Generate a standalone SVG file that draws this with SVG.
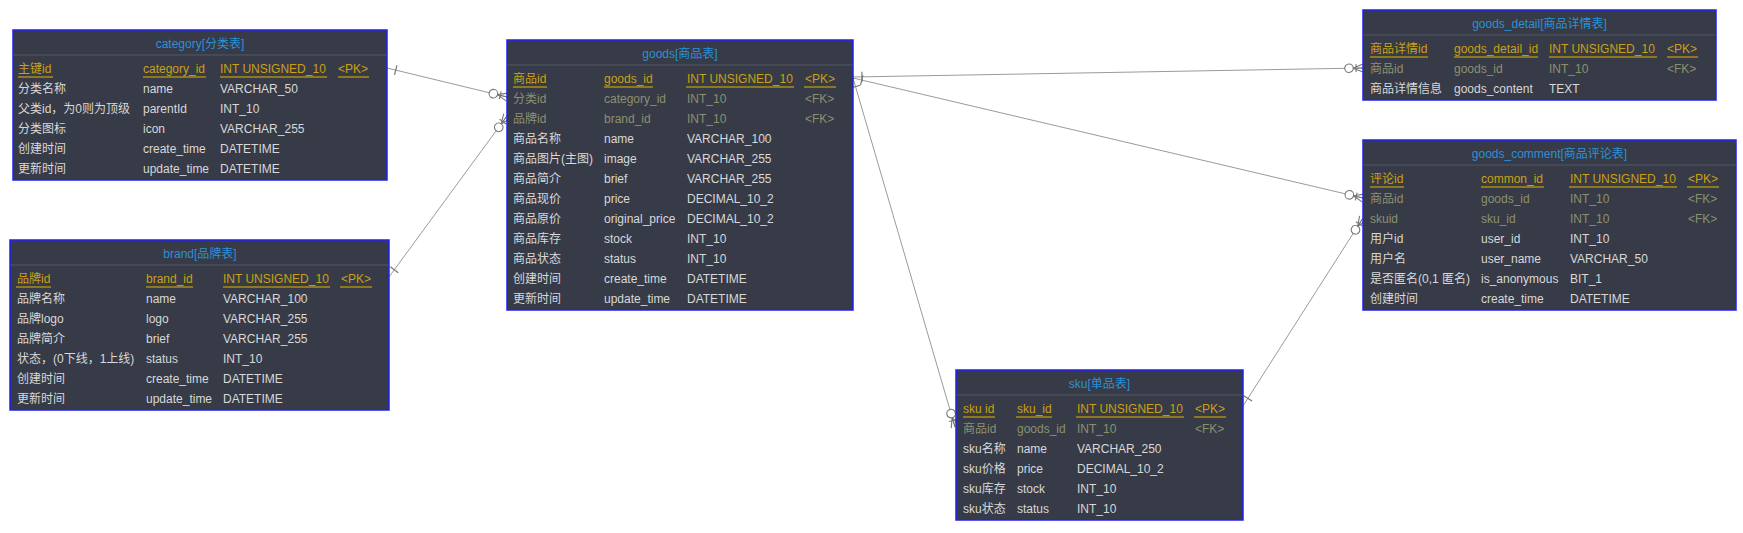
<svg xmlns="http://www.w3.org/2000/svg" width="1743" height="533" viewBox="0 0 1743 533">
<style>
text{font-family:"Liberation Sans","Noto Sans CJK SC",sans-serif;font-size:12px}
.tbl{fill:#363b47;stroke:#2020f0;stroke-width:1.5}
.hdr{stroke:#535865;stroke-width:1}
.title{fill:#2b90d9;text-anchor:middle}
.pk{fill:#c9a116}
.fk{fill:#8c9071}
.tx{fill:#d8d8d8}
.ul{fill:#8d7820}
.conn{stroke:#9a9a9a;stroke-width:1;fill:none}
</style>
<defs>
<marker id="one" markerUnits="userSpaceOnUse" viewBox="-20 -10 24 20" refX="0" refY="0" markerWidth="24" markerHeight="20" orient="auto-start-reverse" overflow="visible">
<path d="M-9,-5 L-9,5" stroke="#777" stroke-width="1.2" fill="none"/>
</marker>
<marker id="many" markerUnits="userSpaceOnUse" viewBox="-20 -10 24 20" refX="0" refY="0" markerWidth="24" markerHeight="20" orient="auto-start-reverse" overflow="visible">
<circle cx="-14" cy="0" r="4.3" fill="#fff" stroke="#777" stroke-width="1.1"/>
<path d="M-10,0 L0,-4 M-10,0 L0,0 M-10,0 L0,4 M-7,-4 L-7,4" stroke="#777" stroke-width="1.1" fill="none"/>
</marker>
</defs>
<rect width="1743" height="533" fill="#fff"/>

<g id="connectors">
<path class="conn" d="M387,68 L507,97" marker-start="url(#one)" marker-end="url(#many)"/>
<path class="conn" d="M389,277 L507,116" marker-start="url(#one)" marker-end="url(#many)"/>
<path class="conn" d="M853,77 L1363,68" marker-start="url(#one)" marker-end="url(#many)"/>
<path class="conn" d="M853,78 L1363,198" marker-start="url(#one)" marker-end="url(#many)"/>
<path class="conn" d="M853,78 L955,427" marker-start="url(#one)" marker-end="url(#many)"/>
<path class="conn" d="M1243,406 L1363,218" marker-start="url(#one)" marker-end="url(#many)"/>
</g>

<g id="category">
<rect class="tbl" x="13" y="30" width="374" height="150"/>
<line class="hdr" x1="13.5" y1="55" x2="386.5" y2="55"/>
<text class="title" x="200" y="48">category[分类表]</text>
<rect class="ul" x="18" y="76" width="35" height="2"/><rect class="ul" x="143" y="76" width="63" height="2"/><rect class="ul" x="220" y="76" width="107" height="2"/><rect class="ul" x="338" y="76" width="31" height="2"/>
<text class="pk" x="18" y="73">主键id</text><text class="pk" x="143" y="73">category_id</text><text class="pk" x="220" y="73">INT UNSIGNED_10</text><text class="pk" x="338" y="73">&lt;PK&gt;</text>
<text class="tx" x="18" y="93">分类名称</text><text class="tx" x="143" y="93">name</text><text class="tx" x="220" y="93">VARCHAR_50</text>
<text class="tx" x="18" y="113">父类id，为0则为顶级</text><text class="tx" x="143" y="113">parentId</text><text class="tx" x="220" y="113">INT_10</text>
<text class="tx" x="18" y="133">分类图标</text><text class="tx" x="143" y="133">icon</text><text class="tx" x="220" y="133">VARCHAR_255</text>
<text class="tx" x="18" y="153">创建时间</text><text class="tx" x="143" y="153">create_time</text><text class="tx" x="220" y="153">DATETIME</text>
<text class="tx" x="18" y="173">更新时间</text><text class="tx" x="143" y="173">update_time</text><text class="tx" x="220" y="173">DATETIME</text>
</g>

<g id="brand">
<rect class="tbl" x="10" y="240" width="379" height="170"/>
<line class="hdr" x1="10.5" y1="265" x2="388.5" y2="265"/>
<text class="title" x="200" y="258">brand[品牌表]</text>
<rect class="ul" x="16" y="286" width="35" height="2"/><rect class="ul" x="146" y="286" width="47" height="2"/><rect class="ul" x="223" y="286" width="107" height="2"/><rect class="ul" x="340" y="286" width="32" height="2"/>
<text class="pk" x="17" y="283">品牌id</text><text class="pk" x="146" y="283">brand_id</text><text class="pk" x="223" y="283">INT UNSIGNED_10</text><text class="pk" x="341" y="283">&lt;PK&gt;</text>
<text class="tx" x="17" y="303">品牌名称</text><text class="tx" x="146" y="303">name</text><text class="tx" x="223" y="303">VARCHAR_100</text>
<text class="tx" x="17" y="323">品牌logo</text><text class="tx" x="146" y="323">logo</text><text class="tx" x="223" y="323">VARCHAR_255</text>
<text class="tx" x="17" y="343">品牌简介</text><text class="tx" x="146" y="343">brief</text><text class="tx" x="223" y="343">VARCHAR_255</text>
<text class="tx" x="17" y="363">状态，(0下线，1上线)</text><text class="tx" x="146" y="363">status</text><text class="tx" x="223" y="363">INT_10</text>
<text class="tx" x="17" y="383">创建时间</text><text class="tx" x="146" y="383">create_time</text><text class="tx" x="223" y="383">DATETIME</text>
<text class="tx" x="17" y="403">更新时间</text><text class="tx" x="146" y="403">update_time</text><text class="tx" x="223" y="403">DATETIME</text>
</g>

<g id="goods">
<rect class="tbl" x="507" y="40" width="346" height="270"/>
<line class="hdr" x1="507.5" y1="65" x2="852.5" y2="65"/>
<text class="title" x="680" y="58">goods[商品表]</text>
<rect class="ul" x="513" y="86" width="34" height="2"/><rect class="ul" x="604" y="86" width="49" height="2"/><rect class="ul" x="686" y="86" width="108" height="2"/><rect class="ul" x="804" y="86" width="32" height="2"/>
<text class="pk" x="513" y="83">商品id</text><text class="pk" x="604" y="83">goods_id</text><text class="pk" x="687" y="83">INT UNSIGNED_10</text><text class="pk" x="805" y="83">&lt;PK&gt;</text>
<text class="fk" x="513" y="103">分类id</text><text class="fk" x="604" y="103">category_id</text><text class="fk" x="687" y="103">INT_10</text><text class="fk" x="805" y="103">&lt;FK&gt;</text>
<text class="fk" x="513" y="123">品牌id</text><text class="fk" x="604" y="123">brand_id</text><text class="fk" x="687" y="123">INT_10</text><text class="fk" x="805" y="123">&lt;FK&gt;</text>
<text class="tx" x="513" y="143">商品名称</text><text class="tx" x="604" y="143">name</text><text class="tx" x="687" y="143">VARCHAR_100</text>
<text class="tx" x="513" y="163">商品图片(主图)</text><text class="tx" x="604" y="163">image</text><text class="tx" x="687" y="163">VARCHAR_255</text>
<text class="tx" x="513" y="183">商品简介</text><text class="tx" x="604" y="183">brief</text><text class="tx" x="687" y="183">VARCHAR_255</text>
<text class="tx" x="513" y="203">商品现价</text><text class="tx" x="604" y="203">price</text><text class="tx" x="687" y="203">DECIMAL_10_2</text>
<text class="tx" x="513" y="223">商品原价</text><text class="tx" x="604" y="223">original_price</text><text class="tx" x="687" y="223">DECIMAL_10_2</text>
<text class="tx" x="513" y="243">商品库存</text><text class="tx" x="604" y="243">stock</text><text class="tx" x="687" y="243">INT_10</text>
<text class="tx" x="513" y="263">商品状态</text><text class="tx" x="604" y="263">status</text><text class="tx" x="687" y="263">INT_10</text>
<text class="tx" x="513" y="283">创建时间</text><text class="tx" x="604" y="283">create_time</text><text class="tx" x="687" y="283">DATETIME</text>
<text class="tx" x="513" y="303">更新时间</text><text class="tx" x="604" y="303">update_time</text><text class="tx" x="687" y="303">DATETIME</text>
</g>

<g id="goods_detail">
<rect class="tbl" x="1363" y="10" width="353" height="90"/>
<line class="hdr" x1="1363.5" y1="35" x2="1715.5" y2="35"/>
<text class="title" x="1539.5" y="28">goods_detail[商品详情表]</text>
<rect class="ul" x="1370" y="56" width="58" height="2"/><rect class="ul" x="1454" y="56" width="84" height="2"/><rect class="ul" x="1549" y="56" width="108" height="2"/><rect class="ul" x="1667" y="56" width="31" height="2"/>
<text class="pk" x="1370" y="53">商品详情id</text><text class="pk" x="1454" y="53">goods_detail_id</text><text class="pk" x="1549" y="53">INT UNSIGNED_10</text><text class="pk" x="1667" y="53">&lt;PK&gt;</text>
<text class="fk" x="1370" y="73">商品id</text><text class="fk" x="1454" y="73">goods_id</text><text class="fk" x="1549" y="73">INT_10</text><text class="fk" x="1667" y="73">&lt;FK&gt;</text>
<text class="tx" x="1370" y="93">商品详情信息</text><text class="tx" x="1454" y="93">goods_content</text><text class="tx" x="1549" y="93">TEXT</text>
</g>

<g id="goods_comment">
<rect class="tbl" x="1363" y="140" width="373" height="170"/>
<line class="hdr" x1="1363.5" y1="165" x2="1735.5" y2="165"/>
<text class="title" x="1549.5" y="158">goods_comment[商品评论表]</text>
<rect class="ul" x="1370" y="186" width="34" height="2"/><rect class="ul" x="1481" y="186" width="63" height="2"/><rect class="ul" x="1569" y="186" width="108" height="2"/><rect class="ul" x="1687" y="186" width="32" height="2"/>
<text class="pk" x="1370" y="183">评论id</text><text class="pk" x="1481" y="183">common_id</text><text class="pk" x="1570" y="183">INT UNSIGNED_10</text><text class="pk" x="1688" y="183">&lt;PK&gt;</text>
<text class="fk" x="1370" y="203">商品id</text><text class="fk" x="1481" y="203">goods_id</text><text class="fk" x="1570" y="203">INT_10</text><text class="fk" x="1688" y="203">&lt;FK&gt;</text>
<text class="fk" x="1370" y="223">skuid</text><text class="fk" x="1481" y="223">sku_id</text><text class="fk" x="1570" y="223">INT_10</text><text class="fk" x="1688" y="223">&lt;FK&gt;</text>
<text class="tx" x="1370" y="243">用户id</text><text class="tx" x="1481" y="243">user_id</text><text class="tx" x="1570" y="243">INT_10</text>
<text class="tx" x="1370" y="263">用户名</text><text class="tx" x="1481" y="263">user_name</text><text class="tx" x="1570" y="263">VARCHAR_50</text>
<text class="tx" x="1370" y="283">是否匿名(0,1 匿名)</text><text class="tx" x="1481" y="283">is_anonymous</text><text class="tx" x="1570" y="283">BIT_1</text>
<text class="tx" x="1370" y="303">创建时间</text><text class="tx" x="1481" y="303">create_time</text><text class="tx" x="1570" y="303">DATETIME</text>
</g>

<g id="sku">
<rect class="tbl" x="956" y="370" width="287" height="150"/>
<line class="hdr" x1="956.5" y1="395" x2="1242.5" y2="395"/>
<text class="title" x="1099.5" y="388">sku[单品表]</text>
<rect class="ul" x="963" y="416" width="32" height="2"/><rect class="ul" x="1016" y="416" width="36" height="2"/><rect class="ul" x="1076" y="416" width="108" height="2"/><rect class="ul" x="1194" y="416" width="32" height="2"/>
<text class="pk" x="963" y="413">sku id</text><text class="pk" x="1017" y="413">sku_id</text><text class="pk" x="1077" y="413">INT UNSIGNED_10</text><text class="pk" x="1195" y="413">&lt;PK&gt;</text>
<text class="fk" x="963" y="433">商品id</text><text class="fk" x="1017" y="433">goods_id</text><text class="fk" x="1077" y="433">INT_10</text><text class="fk" x="1195" y="433">&lt;FK&gt;</text>
<text class="tx" x="963" y="453">sku名称</text><text class="tx" x="1017" y="453">name</text><text class="tx" x="1077" y="453">VARCHAR_250</text>
<text class="tx" x="963" y="473">sku价格</text><text class="tx" x="1017" y="473">price</text><text class="tx" x="1077" y="473">DECIMAL_10_2</text>
<text class="tx" x="963" y="493">sku库存</text><text class="tx" x="1017" y="493">stock</text><text class="tx" x="1077" y="493">INT_10</text>
<text class="tx" x="963" y="513">sku状态</text><text class="tx" x="1017" y="513">status</text><text class="tx" x="1077" y="513">INT_10</text>
</g>
</svg>
